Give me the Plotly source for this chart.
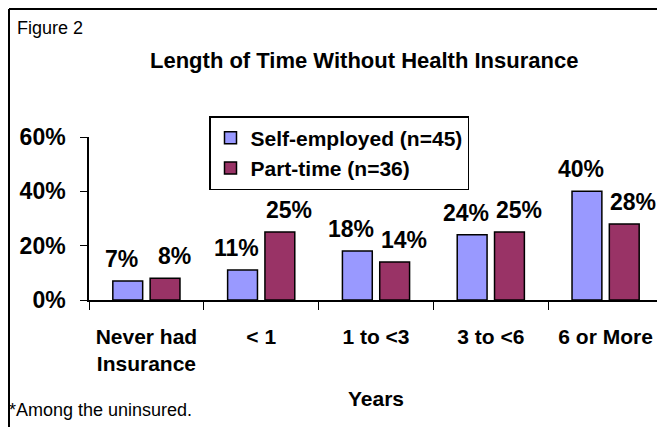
import plotly.graph_objects as go

# data
categories = ["Never had<br>Insurance", "< 1", "1 to <3", "3 to <6", "6 or More"]
self_employed = [0.07, 0.11, 0.18, 0.24, 0.40]
part_time = [0.08, 0.25, 0.14, 0.25, 0.28]
series_names = ["Self-employed (n=45)", "Part-time (n=36)"]
series_colors = ["#9999FF", "#993366"]
label_shift = [-6, 9]   # Excel nudges the value labels apart
y_ticks = [0, 0.2, 0.4, 0.6]
y_ticklabels = ["0%", "20%", "40%", "60%"]

FONT = "Arial, Liberation Sans, sans-serif"

def bold(size):
    return dict(family=FONT, size=size, color="black", weight="bold")

# the page body adds an 8px margin, so the figure is drawn 8px in
OFF = 8
W, H = 665 - OFF, 427 - OFF
# plot area in screen pixels: x 89..663, y 137..300
L, R, T, B = 89 - OFF, 665 - 663, 137 - OFF, 427 - 300
pw, ph = W - L - R, H - T - B

def px(x):
    return (x - OFF - L) / pw

def py(y):
    return (H - B - (y - OFF)) / ph

fig = go.Figure()
for name, vals, col in zip(series_names, [self_employed, part_time], series_colors):
    fig.add_trace(go.Bar(
        x=categories, y=vals, name=name,
        marker=dict(color=col, line=dict(color="black", width=1.5)),
    ))

annotations = []
for i, vals in enumerate([self_employed, part_time]):
    for cat, v in zip(categories, vals):
        annotations.append(dict(
            x=cat, y=v, xref="x", yref="y", text=f"{round(v * 100)}%",
            showarrow=False, xanchor="center", yanchor="middle",
            xshift=(i - 0.5) * 37.5 + label_shift[i], yshift=22,
            font=bold(23),
        ))

annotations += [
    dict(text="Length of Time Without Health Insurance",
         x=px(364), y=py(60), xref="paper", yref="paper",
         xanchor="center", yanchor="middle", showarrow=False, font=bold(22)),
    dict(text="Figure 2", x=px(15), y=py(28), xref="paper", yref="paper",
         xanchor="left", yanchor="middle", showarrow=False,
         font=dict(family=FONT, size=18, color="black")),
    dict(text="*Among the uninsured.", x=px(7), y=py(410), xref="paper", yref="paper",
         xanchor="left", yanchor="middle", showarrow=False,
         font=dict(family=FONT, size=18, color="black")),
]

fig.update_layout(
    width=W, height=H,
    paper_bgcolor="white", plot_bgcolor="white",
    margin=dict(l=L, r=R, t=T, b=B, autoexpand=False),
    barmode="group", bargap=0.35, bargroupgap=0.2,
    showlegend=True,
    legend=dict(
        x=px(209), y=py(116), xanchor="left", yanchor="top",
        bgcolor="white", bordercolor="black", borderwidth=1.5,
        font=bold(21), tracegroupgap=0, itemwidth=30,
    ),
    xaxis=dict(
        automargin=False,
        showline=True, linecolor="black", linewidth=1.5,
        ticks="outside", tickson="boundaries", ticklen=8, tickcolor="black",
        tickfont=bold(21), ticklabelstandoff=17,
        title=dict(text="Years", standoff=17, font=bold(21)),
        showgrid=False,
    ),
    yaxis=dict(
        automargin=False,
        range=[0, 0.6], tickvals=y_ticks, ticktext=y_ticklabels,
        showline=True, linecolor="black", linewidth=1.5,
        ticks="outside", ticklen=7, tickcolor="black",
        tickfont=bold(23), ticklabelstandoff=10,
        showgrid=False, zeroline=False,
    ),
    annotations=annotations,
    shapes=[
        dict(type="line", xref="paper", yref="paper", x0=px(OFF + 1), x1=px(OFF + 1),
             y0=py(427), y1=py(OFF + 1), line=dict(color="black", width=2)),
        dict(type="line", xref="paper", yref="paper", x0=px(OFF + 1), x1=px(665),
             y0=py(OFF + 1), y1=py(OFF + 1), line=dict(color="black", width=2)),
    ],
)

fig.write_html("out.html")
